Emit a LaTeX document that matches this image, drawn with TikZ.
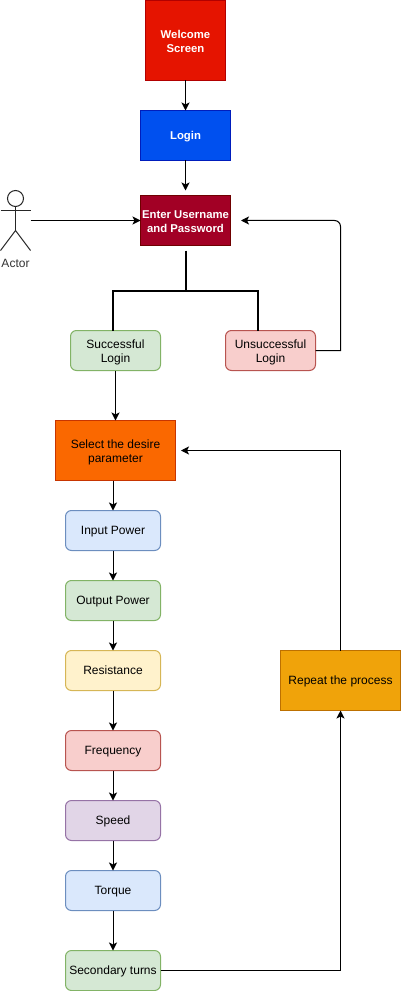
\documentclass[tikz,border=0pt]{standalone}
\usepackage{fontspec}
\setmainfont{Liberation Sans}
\usetikzlibrary{arrows.meta, positioning, calc}
\definecolor{welcomefill}{HTML}{E51400}
\definecolor{welcomeline}{HTML}{B20000}
\definecolor{loginfill}{HTML}{0050EF}
\definecolor{loginline}{HTML}{001DBC}
\definecolor{enterfill}{HTML}{A20025}
\definecolor{enterline}{HTML}{6F0000}
\definecolor{greenfill}{HTML}{D5E8D4}
\definecolor{greenline}{HTML}{82B366}
\definecolor{redfill}{HTML}{F8CECC}
\definecolor{redline}{HTML}{B85450}
\definecolor{selectfill}{HTML}{FA6800}
\definecolor{selectline}{HTML}{C73500}
\definecolor{bluefill}{HTML}{DAE8FC}
\definecolor{blueline}{HTML}{6C8EBF}
\definecolor{yellowfill}{HTML}{FFF2CC}
\definecolor{yellowline}{HTML}{D6B656}
\definecolor{purplefill}{HTML}{E1D5E7}
\definecolor{purpleline}{HTML}{9673A6}
\definecolor{repeatfill}{HTML}{F0A30A}
\definecolor{repeatline}{HTML}{BD7000}

\begin{document}
\begin{tikzpicture}[x=0.75pt, y=0.75pt, >=Stealth, line width=0.75pt,
    every node/.style = {font=\fontsize{9}{10.5}\selectfont, align=center, outer sep=0pt, inner sep=0pt, text height=6.6pt, text depth=0pt},
    twolines/.style = {text height=17.6pt},
    header/.style = {rectangle, minimum width=67.5pt, minimum height=37.5pt, text=white, font=\fontsize{8.5}{10.5}\selectfont\bfseries},
    process/.style = {rectangle, minimum width=90pt, minimum height=45pt},
    result/.style = {rectangle, rounded corners=4.5pt, minimum width=67.5pt, minimum height=30pt},
    parameter/.style = {rectangle, rounded corners=4.5pt, minimum width=71.25pt, minimum height=30pt},
    arrow/.style = {->, >={Stealth[length=6pt, width=6pt, inset=1.5pt]}, black},
    branch/.style = {line width=1.5pt, black}]
        \useasboundingbox (0,0) rectangle (401,-991);

        % Nodes
        \node (welcome) [header, twolines, minimum width=60pt, minimum height=60pt, fill=welcomefill, draw=welcomeline] at (185.5,-40.5) {Welcome\\Screen};
        \node (login) [header, below=22.5pt of welcome, fill=loginfill, draw=loginline] {Login};
        \node (enter) [header, twolines, below=26.25pt of login, fill=enterfill, draw=enterline] {Enter Username\\and Password};
        \node (actor) [minimum width=22.5pt, minimum height=45pt] at (15.5,-220.5) {};
        \node (actorlabel) [below=6.5pt of actor, text=black!80] {Actor};

        \node (success) [result, twolines, fill=greenfill, draw=greenline] at (115.5,-350.5) {Successful\\Login};
        \node (fail) [result, twolines, right=48.75pt of success, fill=redfill, draw=redline] {Unsuccessful\\Login};
        \node (select) [process, twolines, below=37.5pt of success, fill=selectfill, draw=selectline] {Select the desire\\parameter};

        \node (input) [parameter, below=22.5pt of select, xshift=-1.875pt, fill=bluefill, draw=blueline] {Input Power};
        \node (output) [parameter, below=22.5pt of input, fill=greenfill, draw=greenline] {Output Power};
        \node (resistance) [parameter, below=22.5pt of output, fill=yellowfill, draw=yellowline] {Resistance};
        \node (frequency) [parameter, below=30pt of resistance, fill=redfill, draw=redline] {Frequency};
        \node (speed) [parameter, below=22.5pt of frequency, fill=purplefill, draw=purpleline] {Speed};
        \node (torque) [parameter, below=22.5pt of speed, fill=bluefill, draw=blueline] {Torque};
        \node (secondary) [parameter, below=30pt of torque, fill=greenfill, draw=greenline] {Secondary turns};
        \node (repeat) [process, fill=repeatfill, draw=repeatline] at (340.5,-680.5) {Repeat the process};

        % Actor figure
        \draw [black!85] ($(actor.north)+(0,-8)$) circle (8);
        \draw [black!85] ($(actor.north)+(0,-16)$) -- ($(actor.south)+(0,20)$);
        \draw [black!85] ($(actor.north west)+(0,-20)$) -- ($(actor.north east)+(0,-20)$);
        \draw [black!85] (actor.south west) -- ($(actor.south)+(0,20)$) -- (actor.south east);

        % Arrows
        \draw [arrow] (welcome) -- (login);
        \draw [arrow] (login) -- ($(enter.north)+(0,5)$);
        \draw [arrow] (actor) -- (enter);
        \draw [arrow] (success) -- (select);
        \draw [arrow] (select.south -| input) -- (input);
        \draw [arrow] (input) -- (output);
        \draw [arrow] (output) -- (resistance);
        \draw [arrow] (resistance) -- (frequency);
        \draw [arrow] (frequency) -- (speed);
        \draw [arrow] (speed) -- (torque);
        \draw [arrow] (torque) -- (secondary);
        \draw [arrow] (secondary) -| (repeat);
        \draw [arrow] (repeat) |- ($(select.east)+(5.5,0)$);

        % Return from the failed login
        \coordinate (turn) at ($(fail.east)+(25,0)$);
        \draw [arrow] (fail) -- (turn) [rounded corners=4.5pt] -- (turn |- enter) -- ($(enter.east)+(10.5,0)$);

        % Login result branches
        \coordinate (fork) at ($(enter.south)+(0,-45)$);
        \draw [branch] ($(enter.south)+(0,-5)$) -- (fork);
        \draw [branch] ($(success.north)+(-2.5,0)$) |- (fork) -| ($(fail.north)+(-12.5,0)$);
    \end{tikzpicture}
\end{document}
